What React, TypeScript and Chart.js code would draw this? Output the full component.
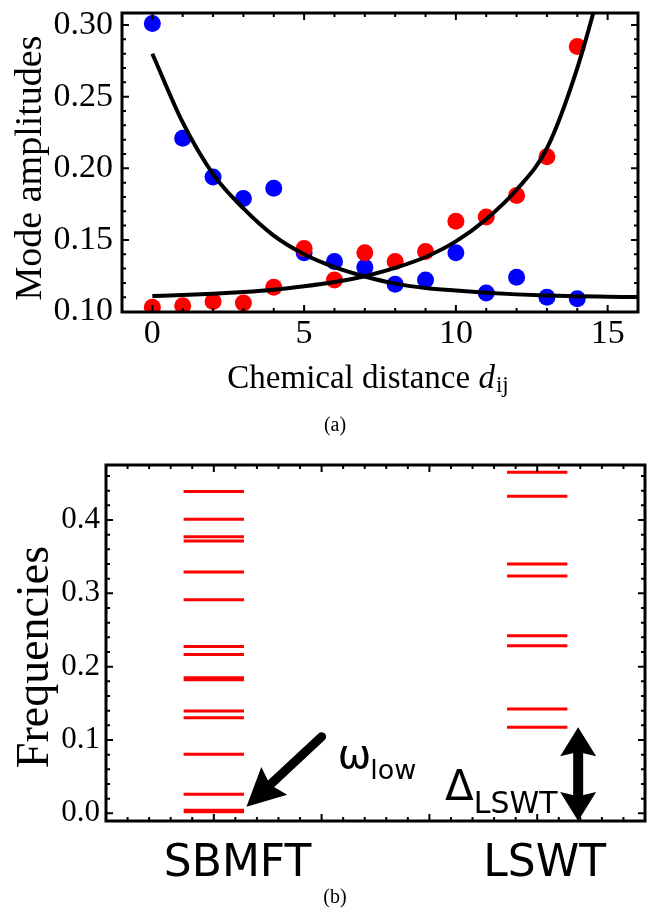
import React, { useEffect, useRef } from 'react';
import { Chart, registerables } from 'chart.js';

Chart.register(...registerables);

// ---------- Panel (a) data ----------
const distances = [0, 1, 2, 3, 4, 5, 6, 7, 8, 9, 10, 11, 12, 13, 14];
const blueAmplitudes = [0.301, 0.221, 0.194, 0.179, 0.186, 0.141, 0.135, 0.131, 0.119, 0.122, 0.141, 0.113, 0.124, 0.110, 0.109];
const redAmplitudes = [0.103, 0.104, 0.107, 0.106, 0.117, 0.144, 0.122, 0.141, 0.135, 0.142, 0.163, 0.166, 0.181, 0.208, 0.285];
const decayFitX = [0, 1, 2, 3, 4, 5, 6, 7, 8, 9, 10, 11, 12, 13, 14, 15, 16];
const decayFitY = [0.280, 0.232, 0.196, 0.172, 0.153, 0.140, 0.131, 0.1245, 0.1195, 0.1165, 0.1147, 0.1132, 0.1120, 0.1112, 0.1107, 0.1104, 0.1101];
const growthFitX = [0, 1, 2, 3, 4, 5, 6, 7, 8, 9, 10, 11, 12, 13, 14, 15];
const growthFitY = [0.1109, 0.1115, 0.1125, 0.1137, 0.1153, 0.1177, 0.1207, 0.1247, 0.1305, 0.1381, 0.1490, 0.1645, 0.1850, 0.2140, 0.2700, 0.3450];
const xTicksA = [0, 5, 10, 15];
const yTicksA = [0.10, 0.15, 0.20, 0.25, 0.30];

// ---------- Panel (b) data ----------
const methods = ['SBMFT', 'LSWT'];
const methodPositions = [1, 4];
const sbmftFrequencies = [0.4387, 0.4010, 0.3770, 0.3715, 0.3290, 0.2911, 0.2275, 0.2167, 0.1850, 0.1822, 0.1396, 0.1302, 0.0805, 0.0259, 0.0042, 0.0020];
const lswtFrequencies = [0.4650, 0.4325, 0.3400, 0.3236, 0.2420, 0.2285, 0.1423, 0.1173];
const yTicksB = [0.0, 0.1, 0.2, 0.3, 0.4];

// ---------- layout / annotation constants ----------
const LEVEL_HALF_WIDTH = 0.28;
const METHOD_LABEL_X = [1.22, 4.07];
const OMEGA_ARROW = { x0: 2.0, y0: 0.1045, x1: 1.303, y1: 0.009 };
const GAP_ARROW_X = 4.38;
const OMEGA_LABEL = { x: 2.15, y: 0.0618 };
const DELTA_LABEL = { x: 3.145, y: 0.0181 };

const SERIF = '"Liberation Serif", "Times New Roman", serif';
const SANS = '"DejaVu Sans", sans-serif';

const range = (a: number, b: number, step: number) => {
  const out: number[] = [];
  for (let v = a; v <= b + 1e-9; v += step) out.push(+v.toFixed(4));
  return out;
};

function makeFramePlugin(cfg: {
  xMajor: number[]; xMinor: number[]; yMajor: number[]; yMinor: number[];
  majorLen: number; minorLen: number; frameWidth: number; tickWidth: number;
}) {
  return {
    id: 'frame',
    afterDraw(chart: any) {
      const { ctx, chartArea } = chart;
      const { left, right, top, bottom } = chartArea;
      const xs = chart.scales.x;
      const ys = chart.scales.y;
      ctx.save();
      ctx.strokeStyle = '#000';
      ctx.lineWidth = cfg.tickWidth;
      ctx.beginPath();
      const isMajor = (arr: number[], v: number) => arr.some((m) => Math.abs(m - v) < 1e-6);
      cfg.xMinor.concat(cfg.xMajor).forEach((v, i) => {
        const len = i >= cfg.xMinor.length || isMajor(cfg.xMajor, v) ? cfg.majorLen : cfg.minorLen;
        const px = xs.getPixelForValue(v);
        if (px < left + 1 || px > right - 1) return;
        ctx.moveTo(px, bottom); ctx.lineTo(px, bottom - len);
        ctx.moveTo(px, top); ctx.lineTo(px, top + len);
      });
      cfg.yMinor.concat(cfg.yMajor).forEach((v, i) => {
        const len = i >= cfg.yMinor.length || isMajor(cfg.yMajor, v) ? cfg.majorLen : cfg.minorLen;
        const py = ys.getPixelForValue(v);
        if (py < top + 1 || py > bottom - 1) return;
        ctx.moveTo(left, py); ctx.lineTo(left + len, py);
        ctx.moveTo(right, py); ctx.lineTo(right - len, py);
      });
      ctx.stroke();
      ctx.lineWidth = cfg.frameWidth;
      ctx.strokeRect(left, top, right - left, bottom - top);
      ctx.restore();
    },
  };
}

const textPluginA = {
  id: 'textA',
  afterDraw(chart: any) {
    const { ctx } = chart;
    ctx.save();
    ctx.fillStyle = '#000';
    ctx.textBaseline = 'alphabetic';
    // y title
    ctx.font = `38px ${SERIF}`;
    ctx.save();
    ctx.translate(41, 168);
    ctx.rotate(-Math.PI / 2);
    ctx.textAlign = 'center';
    ctx.fillText('Mode amplitudes', 0, 0);
    ctx.restore();
    // x title with italic d and subscript ij
    ctx.textAlign = 'left';
    const mainFont = `33px ${SERIF}`;
    const italFont = `italic 33px ${SERIF}`;
    const subFont = `23px ${SERIF}`;
    const t1 = 'Chemical distance ';
    ctx.font = mainFont; const w1 = ctx.measureText(t1).width;
    ctx.font = italFont; const w2 = ctx.measureText('d').width;
    ctx.font = subFont; const w3 = ctx.measureText('ij').width;
    const cx = 368;
    let x = cx - (w1 + w2 + 1 + w3) / 2;
    const base = 388;
    ctx.font = mainFont; ctx.fillText(t1, x, base); x += w1;
    ctx.font = italFont; ctx.fillText('d', x, base); x += w2 + 1;
    ctx.font = subFont; ctx.fillText('ij', x, base + 4);
    // panel label
    ctx.font = `20px ${SERIF}`;
    ctx.textAlign = 'center';
    ctx.fillText('(a)', 335, 431);
    ctx.restore();
  },
};

function drawHead(ctx: CanvasRenderingContext2D, tipX: number, tipY: number, dirX: number, dirY: number, len: number, half: number) {
  const d = Math.hypot(dirX, dirY);
  const ux = dirX / d, uy = dirY / d;
  const nx = -uy, ny = ux;
  const bx = tipX - ux * len, by = tipY - uy * len;
  ctx.beginPath();
  ctx.moveTo(tipX, tipY);
  ctx.lineTo(bx + nx * half, by + ny * half);
  ctx.lineTo(tipX - ux * len * 0.85, tipY - uy * len * 0.85);
  ctx.lineTo(bx - nx * half, by - ny * half);
  ctx.closePath();
  ctx.fill();
}

const textPluginB = {
  id: 'textB',
  afterDraw(chart: any) {
    const { ctx, chartArea } = chart;
    const xs = chart.scales.x;
    const ys = chart.scales.y;
    ctx.save();
    ctx.fillStyle = '#000';
    ctx.strokeStyle = '#000';
    ctx.textBaseline = 'alphabetic';
    // y title
    ctx.font = `46px ${SERIF}`;
    ctx.save();
    ctx.translate(48, 657 - 440);
    ctx.rotate(-Math.PI / 2);
    ctx.textAlign = 'center';
    ctx.fillText('Frequencies', 0, 0);
    ctx.restore();
    // method labels
    ctx.font = `44px ${SANS}`;
    ctx.textAlign = 'center';
    methods.forEach((m, i) => {
      ctx.fillText(m, xs.getPixelForValue(METHOD_LABEL_X[i]), 876 - 440);
    });
    // omega arrow
    const ax0 = xs.getPixelForValue(OMEGA_ARROW.x0), ay0 = ys.getPixelForValue(OMEGA_ARROW.y0);
    const ax1 = xs.getPixelForValue(OMEGA_ARROW.x1), ay1 = ys.getPixelForValue(OMEGA_ARROW.y1);
    const dx = ax1 - ax0, dy = ay1 - ay0, dl = Math.hypot(dx, dy);
    ctx.lineWidth = 9;
    ctx.lineCap = 'round';
    ctx.beginPath();
    ctx.moveTo(ax0, ay0);
    ctx.lineTo(ax1 - (dx / dl) * 28, ay1 - (dy / dl) * 28);
    ctx.stroke();
    drawHead(ctx, ax1, ay1, dx, dy, 38, 19);
    // gap double arrow
    const gx = xs.getPixelForValue(GAP_ARROW_X);
    const gTop = ys.getPixelForValue(lswtFrequencies[lswtFrequencies.length - 1]);
    const gBot = chartArea.bottom;
    ctx.lineWidth = 10;
    ctx.lineCap = 'butt';
    ctx.beginPath();
    ctx.moveTo(gx, gTop + 24);
    ctx.lineTo(gx, gBot - 24);
    ctx.stroke();
    drawHead(ctx, gx, gTop, 0, -1, 29, 18);
    drawHead(ctx, gx, gBot, 0, 1, 29, 18);
    // omega label
    ctx.textAlign = 'left';
    const ox = xs.getPixelForValue(OMEGA_LABEL.x), oy = ys.getPixelForValue(OMEGA_LABEL.y);
    ctx.font = `40px ${SANS}`;
    ctx.fillText('ω', ox, oy);
    const ow = ctx.measureText('ω').width;
    ctx.font = `27px ${SANS}`;
    ctx.fillText('low', ox + ow - 1, oy + 11);
    // delta label
    const dxp = xs.getPixelForValue(DELTA_LABEL.x), dyp = ys.getPixelForValue(DELTA_LABEL.y);
    ctx.font = `42px ${SANS}`;
    ctx.fillText('Δ', dxp, dyp);
    const dw = ctx.measureText('Δ').width;
    ctx.font = `30px ${SANS}`;
    ctx.fillText('LSWT', dxp + dw, dyp + 13);
    // panel label
    ctx.font = `20px ${SERIF}`;
    ctx.textAlign = 'center';
    ctx.fillText('(b)', 335, 903 - 440);
    ctx.restore();
  },
};

function levelSegments(values: number[], center: number) {
  const pts: { x: number; y: number | null }[] = [];
  values.forEach((v) => {
    pts.push({ x: center - LEVEL_HALF_WIDTH, y: v });
    pts.push({ x: center + LEVEL_HALF_WIDTH, y: v });
    pts.push({ x: center, y: null });
  });
  return pts;
}

export default function App() {
  const refA = useRef<HTMLCanvasElement>(null);
  const refB = useRef<HTMLCanvasElement>(null);

  useEffect(() => {
    const chartA = new Chart(refA.current as HTMLCanvasElement, {
      type: 'scatter',
      data: {
        datasets: [
          {
            label: 'decay fit',
            data: decayFitX.map((x, i) => ({ x, y: decayFitY[i] })),
            showLine: true,
            borderColor: '#000',
            borderWidth: 4,
            pointRadius: 0,
            cubicInterpolationMode: 'monotone',
            clip: 0,
            order: 0,
          } as any,
          {
            label: 'growth fit',
            data: growthFitX.map((x, i) => ({ x, y: growthFitY[i] })),
            showLine: true,
            borderColor: '#000',
            borderWidth: 4,
            pointRadius: 0,
            cubicInterpolationMode: 'monotone',
            clip: 0,
            order: 0,
          } as any,
          {
            label: 'red',
            data: distances.map((x, i) => ({ x, y: redAmplitudes[i] })),
            pointRadius: 8.5,
            pointBackgroundColor: '#ff0000',
            pointBorderWidth: 0,
            borderWidth: 0,
            clip: 0,
            order: 1,
          } as any,
          {
            label: 'blue',
            data: distances.map((x, i) => ({ x, y: blueAmplitudes[i] })),
            pointRadius: 8.5,
            pointBackgroundColor: '#0000ff',
            pointBorderWidth: 0,
            borderWidth: 0,
            clip: 0,
            order: 2,
          } as any,
        ],
      },
      options: {
        animation: false,
        responsive: false,
        events: [],
        layout: { padding: { left: 0, right: 9, top: 13, bottom: 0 } },
        plugins: { legend: { display: false }, tooltip: { enabled: false } },
        scales: {
          x: {
            type: 'linear',
            min: -1,
            max: 16,
            grid: { display: false, drawTicks: false },
            border: { display: false },
            afterBuildTicks: (s: any) => { s.ticks = xTicksA.map((v) => ({ value: v })); },
            afterFit: (s: any) => { s.height = 128; s.paddingLeft = 0; s.paddingRight = 0; },
            ticks: {
              padding: 2,
              color: '#000',
              font: { family: SERIF, size: 34 },
              maxRotation: 0,
              autoSkip: false,
              callback: (v: any) => String(v),
            },
          },
          y: {
            type: 'linear',
            min: 0.0997,
            max: 0.3084,
            grid: { display: false, drawTicks: false },
            border: { display: false },
            afterBuildTicks: (s: any) => { s.ticks = yTicksA.map((v) => ({ value: v })); },
            afterFit: (s: any) => { s.width = 122; s.paddingTop = 0; s.paddingBottom = 0; },
            ticks: {
              padding: 9,
              color: '#000',
              font: { family: SERIF, size: 34 },
              autoSkip: false,
              callback: (v: any) => Number(v).toFixed(2),
            },
          },
        },
      } as any,
      plugins: [
        makeFramePlugin({
          xMajor: xTicksA, xMinor: range(-1, 16, 1),
          yMajor: yTicksA, yMinor: range(0.1, 0.3, 0.01),
          majorLen: 7, minorLen: 4, frameWidth: 3, tickWidth: 2,
        }),
        textPluginA,
      ],
    });

    const chartB = new Chart(refB.current as HTMLCanvasElement, {
      type: 'scatter',
      data: {
        datasets: [
          {
            label: methods[0],
            data: levelSegments(sbmftFrequencies, methodPositions[0]),
            showLine: true,
            spanGaps: false,
            borderColor: '#ff0000',
            borderWidth: 3,
            pointRadius: 0,
          } as any,
          {
            label: methods[1],
            data: levelSegments(lswtFrequencies, methodPositions[1]),
            showLine: true,
            spanGaps: false,
            borderColor: '#ff0000',
            borderWidth: 3,
            pointRadius: 0,
          } as any,
        ],
      },
      options: {
        animation: false,
        responsive: false,
        events: [],
        layout: { padding: { left: 0, right: 2, top: 25, bottom: 0 } },
        plugins: { legend: { display: false }, tooltip: { enabled: false } },
        scales: {
          x: {
            type: 'linear',
            min: 0,
            max: 5,
            grid: { display: false, drawTicks: false },
            border: { display: false },
            ticks: { display: false },
            afterFit: (s: any) => { s.height = 88; s.paddingLeft = 0; s.paddingRight = 0; },
          },
          y: {
            type: 'linear',
            min: -0.0105,
            max: 0.475,
            grid: { display: false, drawTicks: false },
            border: { display: false },
            afterBuildTicks: (s: any) => { s.ticks = yTicksB.map((v) => ({ value: v })); },
            afterFit: (s: any) => { s.width = 106; s.paddingTop = 0; s.paddingBottom = 0; },
            ticks: {
              padding: 6,
              color: '#000',
              font: { family: SERIF, size: 31 },
              autoSkip: false,
              callback: (v: any) => Number(v).toFixed(1),
            },
          },
        },
      } as any,
      plugins: [
        makeFramePlugin({
          xMajor: methodPositions.concat([2, 3]), xMinor: range(0, 5, 0.2),
          yMajor: yTicksB, yMinor: range(0, 0.46, 0.02),
          majorLen: 7, minorLen: 4, frameWidth: 3, tickWidth: 2,
        }),
        textPluginB,
      ],
    });

    return () => {
      chartA.destroy();
      chartB.destroy();
    };
  }, []);

  return (
    <div style={{ position: 'absolute', left: 0, top: 0, width: 647, height: 909, background: '#fff' }}>
      <canvas ref={refA} width={647} height={440} style={{ position: 'absolute', left: 0, top: 0, width: 647, height: 440 }} />
      <canvas ref={refB} width={647} height={469} style={{ position: 'absolute', left: 0, top: 440, width: 647, height: 469 }} />
    </div>
  );
}
